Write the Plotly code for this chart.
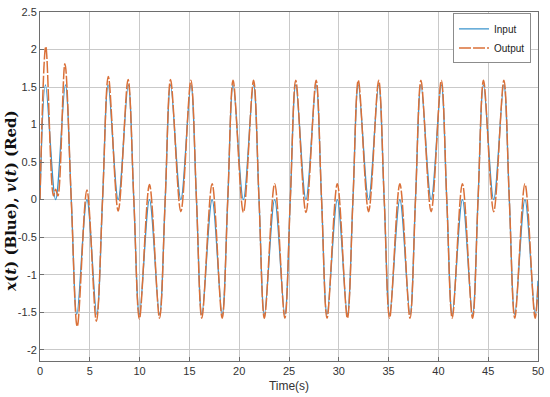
import plotly.graph_objects as go

# Key points (zero crossings, peaks, dips)
t_in = [0, 0.55, 1.57, 2.55, 3.14, 3.70, 4.71, 5.70, 6.28, 6.84, 7.85, 8.86,
        9.42, 9.98, 10.99, 12.00, 12.57, 13.11, 14.14, 15.15, 15.71, 16.25, 17.28, 18.29,
        18.85, 19.39, 20.42, 21.44, 21.99, 22.53, 23.56, 24.58, 25.13, 25.68, 26.70, 27.72,
        28.27, 28.82, 29.85, 30.86, 31.42, 31.96, 32.99, 34.00, 34.56, 35.10, 36.13, 37.15,
        37.70, 38.25, 39.27, 40.29, 40.84, 41.39, 42.41, 43.43, 43.98, 44.53, 45.55, 46.57,
        47.12, 47.67, 48.69, 49.71, 50.0]
x_in = [0, 1.53, 0, 1.53, 0, -1.53, 0, -1.53, 0, 1.53, 0, 1.53,
        0, -1.53, 0, -1.53, 0, 1.53, 0, 1.53, 0, -1.53, 0, -1.53,
        0, 1.53, 0, 1.53, 0, -1.53, 0, -1.53, 0, 1.53, 0, 1.53,
        0, -1.53, 0, -1.53, 0, 1.53, 0, 1.53, 0, -1.53, 0, -1.53,
        0, 1.53, 0, 1.53, 0, -1.53, 0, -1.53, 0, 1.53, 0, 1.53,
        0, -1.53, 0, -1.53, -1.08]

t_out = [0, 0.58, 1.35, 1.57, 1.80, 2.50, 3.14, 3.74, 4.71, 5.66, 6.28, 6.86, 7.85, 8.84,
         9.42, 9.98, 10.99, 12.00, 12.57, 13.11, 14.14, 15.15, 15.71, 16.25, 17.28, 18.29,
         18.85, 19.39, 20.42, 21.44, 21.99, 22.53, 23.56, 24.58, 25.13, 25.68, 26.70, 27.72,
         28.27, 28.82, 29.85, 30.86, 31.42, 31.96, 32.99, 34.00, 34.56, 35.10, 36.13, 37.15,
         37.70, 38.25, 39.27, 40.29, 40.84, 41.39, 42.41, 43.43, 43.98, 44.53, 45.55, 46.57,
         47.12, 47.67, 48.69, 49.71, 50.0]
v_out = [0, 2.04, 0.05, 0.14, 0.05, 1.81, 0, -1.69, 0.13, -1.62, 0, 1.64, -0.15, 1.60,
         0, -1.59, 0.20, -1.58, 0, 1.60, -0.16, 1.59, 0, -1.58, 0.21, -1.58,
         0, 1.59, -0.17, 1.59, 0, -1.58, 0.21, -1.58, 0, 1.59, -0.17, 1.59,
         0, -1.58, 0.21, -1.58, 0, 1.59, -0.16, 1.59, 0, -1.58, 0.21, -1.58,
         0, 1.59, -0.16, 1.59, 0, -1.58, 0.21, -1.58, 0, 1.59, -0.16, 1.59,
         0, -1.58, 0.21, -1.58, -1.15]

x_ticks = [0, 5, 10, 15, 20, 25, 30, 35, 40, 45, 50]
y_ticks = [-2, -1.5, -1, -0.5, 0, 0.5, 1, 1.5, 2, 2.5]
y_labels = ["-2", "-1.5", "-1", "-0.5", "0", "0.5", "1", "1.5", "2", "2.5"]

fig = go.Figure()
fig.add_trace(go.Scatter(x=t_in, y=x_in, mode="lines", name="Input",
                         line=dict(color="#3A93CC", width=1.3, shape="spline", smoothing=1.0)))
fig.add_trace(go.Scatter(x=t_out, y=v_out, mode="lines", name="Output",
                         line=dict(color="#DA7038", width=1.5, shape="spline", smoothing=1.0,
                                   dash="12px,2px")))

axis_common = dict(showgrid=True, gridcolor="#C9C9C9", gridwidth=1,
                   showline=True, linecolor="#6E6E6E", linewidth=1, mirror=True,
                   zeroline=False, ticks="inside", ticklen=4, tickcolor="#6E6E6E",
                   tickfont=dict(family="Liberation Sans, Arial", size=11, color="#333333"))

fig.update_layout(
    width=550, height=397,
    margin=dict(l=40, r=8, t=6, b=36),
    paper_bgcolor="white", plot_bgcolor="white",
    showlegend=True,
    legend=dict(x=0.986, y=0.996, xanchor="right", yanchor="top",
                bgcolor="white", bordercolor="#8C8C8C", borderwidth=1,
                font=dict(family="Liberation Sans, Arial", size=10, color="#222222"),
                itemwidth=30, tracegroupgap=0),
    xaxis=dict(range=[0, 50], tickvals=x_ticks, **axis_common,
               title=dict(text="Time(s)", standoff=5,
                          font=dict(family="Liberation Sans, Arial", size=12, color="#333333"))),
    yaxis=dict(range=[-2.15, 2.5], tickvals=y_ticks, ticktext=y_labels, **axis_common),
    annotations=[dict(text="<b><i>x</i>(<i>t</i>) (Blue), <i>v</i>(<i>t</i>) (Red)</b>",
                      xref="paper", yref="paper", x=-0.058, y=0.459, xanchor="center", yanchor="middle",
                      textangle=-90, showarrow=False,
                      font=dict(family="DejaVu Serif", size=15, color="#111111"))],
)

fig.write_html("out.html", config={"displayModeBar": False},
               post_script="document.body.style.margin='0';document.body.style.padding='0';")
